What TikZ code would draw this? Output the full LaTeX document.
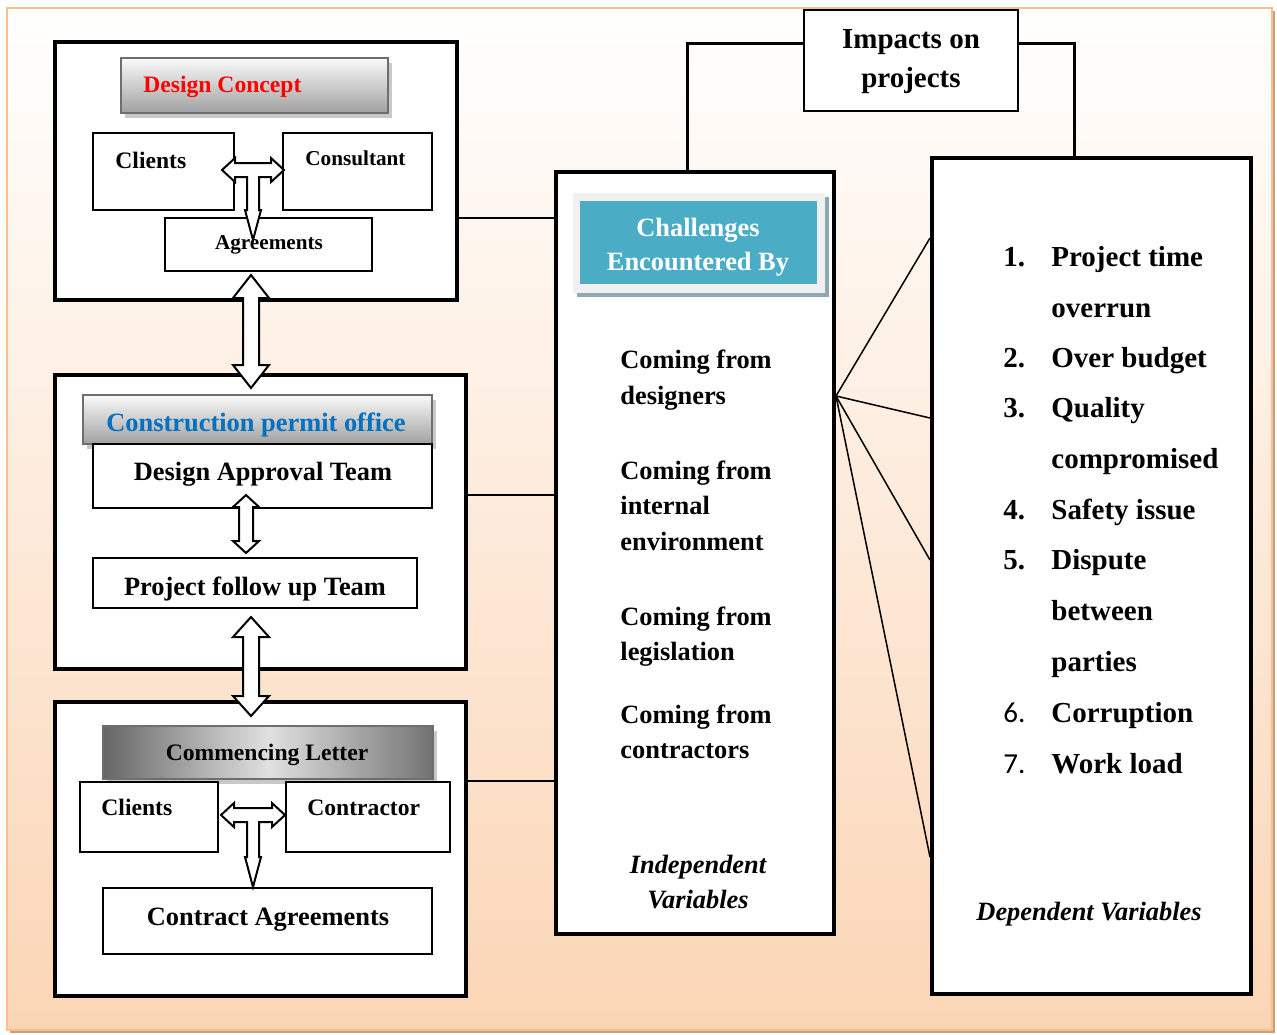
\documentclass[tikz,border=0pt]{standalone}
\usepackage{fontspec}
\setmainfont{Liberation Serif}
\newfontfamily\numfont{Carlito}
\usetikzlibrary{shapes, arrows, fit, backgrounds, positioning, shadows}

% vertical block arrow: x, top tip, length, shaft half, head half, head length
\newcommand{\vblock}[6]{%
  \draw[block_arrow] (#1,#2) -- ++(#5,#6) -- ++({#4-#5},0) -- ++(0,{#3-2*#6}) -- ++({#5-#4},0)
    -- ++(-#5,#6) -- ++(-#5,-#6) -- ++({#5-#4},0) -- ++(0,{2*#6-#3}) -- ++({#4-#5},0) -- cycle;}
% T block arrow: stem x, shaft y, half width, stem length
\newcommand{\tblock}[4]{%
  \draw[block_arrow] ({#1-#3},#2) -- ++(13,-12) -- ++(0,5) -- ++({2*#3-26},0) -- ++(0,-5) -- ++(13,12)
    -- ++(-13,12) -- ++(0,-5) -- ++({19-#3},0) -- ++(0,{#4-30}) -- ++(2,0) -- ++(-8,30) -- ++(-8,-30)
    -- ++(2,0) -- ++(0,{30-#4}) -- ++({19-#3},0) -- ++(0,5) -- cycle;}

\begin{document}
\begin{tikzpicture}[x=0.5pt, y=-0.5pt]

\definecolor{my_peach}{RGB}{251,213,181}
\definecolor{my_frame}{RGB}{248,192,140}
\definecolor{my_frame_shadow}{RGB}{200,160,125}
\definecolor{my_teal}{RGB}{75,172,198}
\definecolor{my_teal_shadow}{RGB}{140,168,176}
\definecolor{my_blue}{RGB}{0,112,192}
\definecolor{my_gray}{RGB}{110,110,110}
\definecolor{my_gray_top}{RGB}{250,250,250}
\definecolor{my_gray_bottom}{RGB}{160,160,160}
\definecolor{my_gray_light}{RGB}{240,240,240}
\definecolor{my_gray_shadow}{RGB}{200,200,200}

\tikzstyle{outer_box} = [draw, line width=2pt, fill=white, inner sep=0pt]
\tikzstyle{inner_box} = [draw, line width=1pt, fill=white, inner sep=0pt]
\tikzstyle{head_box} = [draw=my_gray, line width=1pt, top color=my_gray_top, bottom color=my_gray_bottom, inner sep=0pt,
  drop shadow={fill=my_gray_shadow, opacity=1, shadow xshift=2pt, shadow yshift=-2.5pt}]
\tikzstyle{block_arrow} = [draw, line width=1pt, fill=white, line join=miter]
\tikzstyle{txt} = [font=\bfseries\fontsize{13.2}{17.75}\selectfont, inner sep=0pt]
\tikzstyle{txt_mid} = [font=\bfseries\fontsize{11.8}{14}\selectfont, inner sep=0pt]
\tikzstyle{txt_sml} = [font=\bfseries\fontsize{10.6}{13}\selectfont, inner sep=0pt]
\tikzstyle{txt_big} = [font=\bfseries\fontsize{14.5}{19.5}\selectfont, inner sep=0pt]
\tikzstyle{txt_it} = [font=\bfseries\itshape\fontsize{13.2}{17.5}\selectfont, inner sep=0pt]
\tikzstyle{line} = [draw, line width=0.75pt]
\tikzstyle{elbow} = [draw, line width=1.5pt]

\useasboundingbox (0,0) rectangle (1277,1034);

% background
\fill[my_frame_shadow] (10,11) rectangle (1275,1033);
\path[draw=my_frame, line width=1.25pt, top color=white, bottom color=my_peach] (7,8) rectangle (1272,1030);

% design concept
\node[outer_box, fit={(55,42) (457,300)}] (design_box) {};
\node[head_box, fit={(121,58) (388,113)}] (concept_head) {};
\node[txt_mid, text=red, anchor=base west] (concept_txt) at (143,92) {Design Concept};
\node[inner_box, fit={(93,133) (234,210)}] (clients_a) {};
\node[inner_box, fit={(283,133) (432,210)}] (consultant) {};
\node[inner_box, fit={(165,218) (372,271)}] (agreements) {};
\node[txt_mid, anchor=base west] (clients_a_txt) at (115,168) {Clients};
\node[txt_sml, anchor=base west] (consultant_txt) at (305,165) {Consultant};
\node[txt_sml, anchor=base] (agreements_txt) at (269,249) {Agreements};
\tblock{253}{170}{31}{63}

% construction permit office
\node[outer_box, fit={(55,375) (466,669)}] (permit_box) {};
\node[head_box, fit={(83,395) (432,444)}] (permit_head) {};
\node[inner_box, fit={(93,444) (432,508)}] (approval_team) {};
\node[inner_box, fit={(93,558) (417,608)}] (followup_team) {};
\node[txt, text=my_blue, anchor=base] (permit_txt) at (256,431) {Construction permit office};
\node[txt, anchor=base] (approval_txt) at (263,480) {Design Approval Team};
\node[txt, anchor=base] (followup_txt) at (255,595) {Project follow up Team};
\vblock{246}{495}{58}{7}{13}{12}

% commencing letter
\node[outer_box, fit={(55,702) (466,996)}] (commence_box) {};
\node[draw=my_gray, line width=1pt, left color=black!60, right color=black!55, middle color=black!12, inner sep=0pt,
  drop shadow={fill=my_gray_shadow, opacity=1, shadow xshift=2pt, shadow yshift=-2.5pt},
  fit={(103,726) (433,779)}] (letter_head) {};
\node[inner_box, fit={(80,782) (218,852)}] (clients_b) {};
\node[inner_box, fit={(286,782) (450,852)}] (contractor) {};
\node[inner_box, fit={(103,888) (432,954)}] (contract_agr) {};
\node[txt_mid, anchor=base] (letter_txt) at (267,760) {Commencing Letter};
\node[txt_mid, anchor=base west] (clients_b_txt) at (101,815) {Clients};
\node[txt_mid, anchor=base west] (contractor_txt) at (307,815) {Contractor};
\node[txt, anchor=base] (contract_txt) at (268,925) {Contract Agreements};
\tblock{253}{815}{32}{65}

\vblock{251}{275}{113}{8}{18}{23}
\vblock{251}{617}{99}{8}{18}{20}

% challenges
\node[outer_box, fit={(556,172) (834,934)}] (challenge_box) {};
\node[fill=my_gray_light, inner sep=0pt, drop shadow={fill=my_teal_shadow, opacity=1, shadow xshift=2pt, shadow yshift=-2pt},
  fit={(573,193) (825,293)}] (challenge_frame) {};
\node[fill=my_teal, inner sep=0pt, fit={(580,201) (817,284)}] (challenge_head) {};
\node[txt, text=white, align=center, anchor=north, font=\bfseries\fontsize{13.2}{17}\selectfont] (challenge_txt) at (698,218) {Challenges\\Encountered By};
\node[txt, align=left, anchor=north west] (from_designers) at (620,350) {Coming from\\designers};
\node[txt, align=left, anchor=north west] (from_internal) at (620,460) {Coming from\\internal\\environment};
\node[txt, align=left, anchor=north west] (from_legislation) at (620,606) {Coming from\\legislation};
\node[txt, align=left, anchor=north west] (from_contractors) at (620,704) {Coming from\\contractors};
\node[txt_it, align=center, anchor=north] (indep_txt) at (698,855) {Independent\\Variables};

% impacts
\node[draw, line width=1pt, fill=white, inner sep=0pt, fit={(804,10) (1018,111)}] (impacts) {};
\node[txt_big, align=center, anchor=north] (impacts_txt) at (911,29) {Impacts on\\projects};

% dependent variables
\node[outer_box, fit={(932,158) (1251,994)}] (dependent_box) {};
\foreach \num/\item/\ypos in {1./Project time/266, /overrun/317, 2./Over budget/367, 3./Quality/417,
    /compromised/468, 4./Safety issue/519, 5./Dispute/569, /between/620, /parties/671}
{
  \node[txt_big, anchor=base west] (num_\ypos) at (1003,\ypos) {\num};
  \node[txt_big, anchor=base west] (item_\ypos) at (1051,\ypos) {\item};
}
\foreach \num/\item/\ypos in {6./Corruption/722, 7./Work load/773}
{
  \node[font=\numfont\fontsize{14.5}{17}\selectfont, inner sep=0pt, anchor=base west] (num_\ypos) at (1003,\ypos) {\num};
  \node[txt_big, anchor=base west] (item_\ypos) at (1051,\ypos) {\item};
}
\node[txt_it, anchor=base] (dep_txt) at (1089,920) {Dependent Variables};

% connectors
\coordinate (h1) at (0,218);
\coordinate (h2) at (0,495);
\coordinate (h3) at (0,781);
\path [line] (design_box.east |- h1) -- (challenge_box.west |- h1);
\path [line] (permit_box.east |- h2) -- (challenge_box.west |- h2);
\path [line] (commence_box.east |- h3) -- (challenge_box.west |- h3);

\coordinate (elb_l) at (687,43);
\coordinate (elb_r) at (1074,43);
\path [elbow] (impacts.west |- elb_l) -| (challenge_box.north -| elb_l);
\path [elbow] (impacts.east |- elb_r) -| (dependent_box.north -| elb_r);

\coordinate (f0) at (0,396);
\coordinate (fan) at (challenge_box.east |- f0);
\foreach \yend in {238, 418, 560, 857}
{
  \coordinate (d_\yend) at (0,\yend);
  \path [line] (fan) -- (dependent_box.west |- d_\yend);
}

\end{tikzpicture}
\end{document}
